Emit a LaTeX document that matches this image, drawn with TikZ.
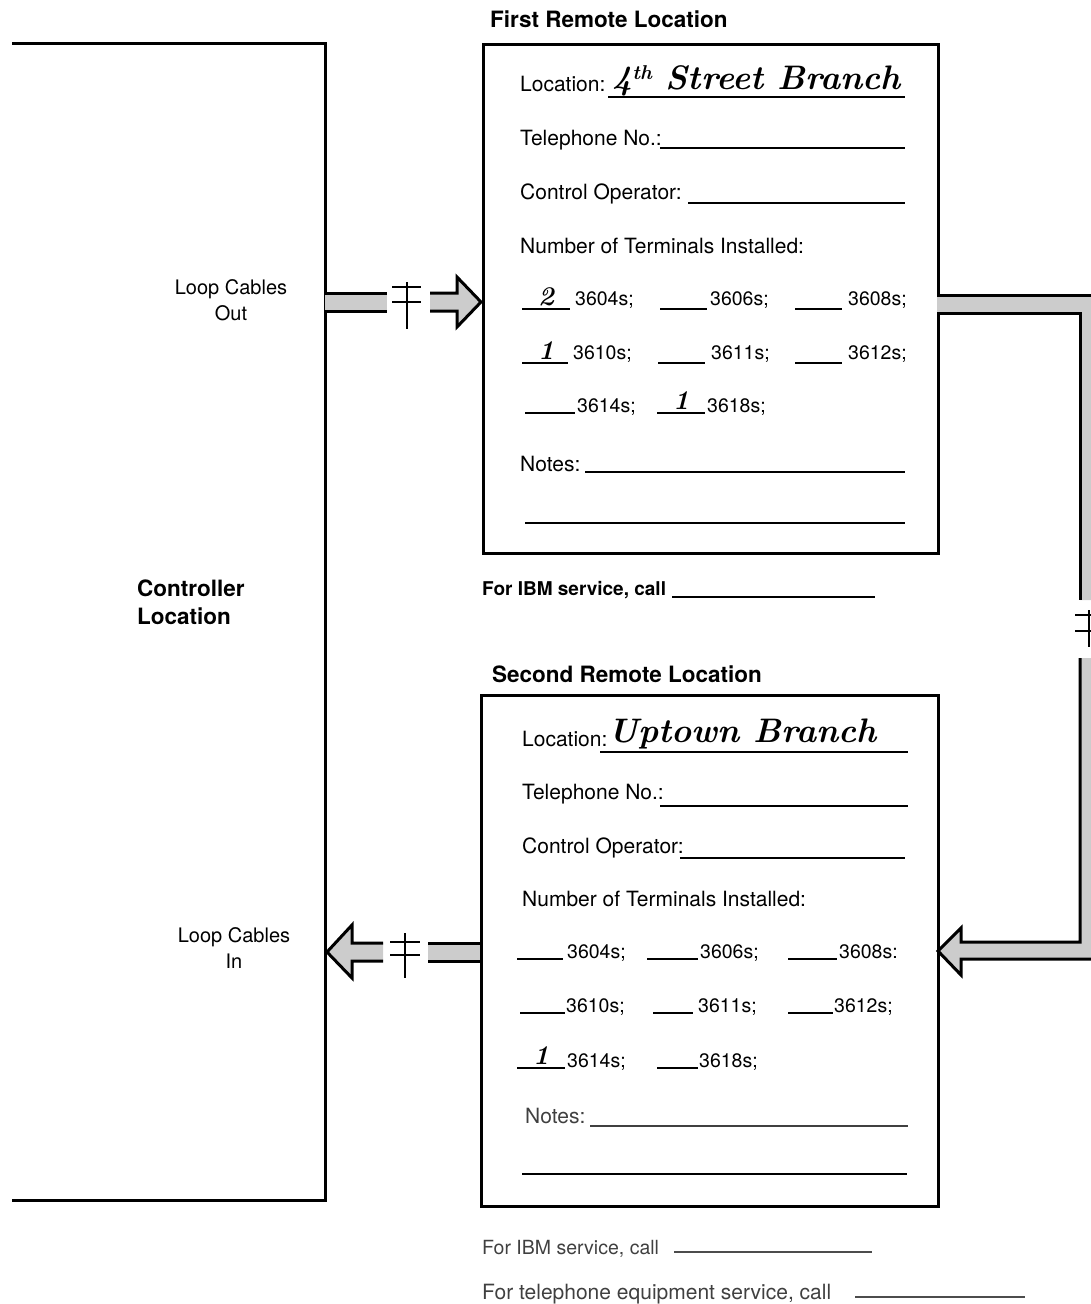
\documentclass[tikz,border=0pt]{standalone}
\usepackage{fontspec}
\setsansfont{TeX Gyre Heros}
\begin{document}
\begin{tikzpicture}[x=1pt,y=-1pt,
  frame/.style={line width=3pt},
  edge/.style={line width=3pt, line join=miter},
  tick/.style={line width=2.4pt},
  bandfill/.style={fill=black!20},
  uline/.style={line width=1.7pt},
  txt/.style={anchor=base west, inner sep=0pt, font=\sffamily\fontsize{21}{24}\selectfont},
  dig/.style={anchor=base west, inner sep=0pt, font=\sffamily\fontsize{19.5}{22}\selectfont},
  ttl/.style={anchor=base west, inner sep=0pt, font=\sffamily\bfseries\fontsize{22.5}{26}\selectfont},
  lbl/.style={align=center, inner sep=0pt, font=\sffamily\fontsize{20}{26}\selectfont},
  hand/.style={anchor=base west, inner sep=0pt, font=\rmfamily\bfseries\itshape\fontsize{34}{34}\selectfont},
  num/.style={anchor=base, inner sep=0pt, font=\rmfamily\bfseries\itshape\fontsize{27}{27}\selectfont},
  faded/.style={text=black!75}
]
\useasboundingbox (0,0) rectangle (1091,1304);
\clip (0,0) rectangle (1091,1304);

% Controller location outline
\draw[frame] (12,43) -- (325,43) -- (325,1200) -- (12,1200);
\node[anchor=base west, inner sep=0pt, align=left, font=\sffamily\bfseries\fontsize{22.5}{28}\selectfont] (ctrl) at (137,624) {Controller\\Location};
\node[lbl, anchor=base] (lco) at (231,320) {Loop Cables\\Out};
\node[lbl, anchor=base] (lci) at (234,968) {Loop Cables\\In};

% Remote boxes
\node[draw, frame, anchor=north west, minimum width=455pt, minimum height=509pt, inner sep=0pt] (box1) at (482,43) {};
\node[draw, frame, anchor=north west, minimum width=457pt, minimum height=511pt, inner sep=0pt] (box2) at (480,694) {};
\node[ttl] (t1) at (490,27) {First Remote Location};
\node[ttl] (t2) at (492,682) {Second Remote Location};

% ---- Loop cables out arrow ----
\fill[bandfill] (325,293) rectangle (387,311);
\draw[edge] (325,293) -- (387,293) (325,311) -- (387,311);
\draw[tick] (407,282) -- (407,329) (392,287) -- (421,287) (392,302) -- (421,302);
\fill[bandfill] (430,293) -- (457,293) -- (457,277) -- (481,302) -- (457,327) -- (457,311) -- (430,311) -- cycle;
\draw[edge] (430,293) -- (457,293) -- (457,277) -- (481,302) -- (457,327) -- (457,311) -- (430,311);

% ---- Right loop ----
\fill[bandfill] (937,295) -- (1098,295) -- (1098,600) -- (1080,600) -- (1080,313) -- (937,313) -- cycle;
\draw[edge] (937,295) -- (1098,295) -- (1098,600);
\draw[edge] (937,313) -- (1080,313) -- (1080,600);
\draw[tick] (1089,610) -- (1089,647) (1075,615) -- (1104,615) (1075,631) -- (1104,631);
\fill[bandfill] (1080,658) -- (1080,942) -- (961,942) -- (961,928) -- (938,951) -- (961,975) -- (961,959) -- (1098,959) -- (1098,658) -- cycle;
\draw[edge] (1080,658) -- (1080,942) -- (961,942) -- (961,928) -- (938,951) -- (961,975) -- (961,959) -- (1098,959) -- (1098,658);

% ---- Loop cables in arrow ----
\fill[bandfill] (428,943) rectangle (480,961);
\draw[edge] (428,943) -- (480,943) (428,961) -- (480,961);
\draw[tick] (405,933) -- (405,978) (390,942) -- (420,942) (390,955) -- (420,955);
\fill[bandfill] (383,943) -- (352,943) -- (352,925) -- (327,952) -- (352,978) -- (352,961) -- (383,961) -- cycle;
\draw[edge] (383,943) -- (352,943) -- (352,925) -- (327,952) -- (352,978) -- (352,961) -- (383,961);

% ---- First box contents ----
\node[txt] (l1) at (520,91) {Location:};
\draw[uline] (608,97) -- (905,97);
\node[hand] (h1) at (612,89) {4\raisebox{10pt}{\fontsize{20}{20}\selectfont th} Street Branch};
\node[txt] (p1) at (520,145) {Telephone No.:};
\draw[uline] (660,148) -- (905,148);
\node[txt] (c1) at (520,199) {Control Operator:};
\draw[uline] (688,203) -- (905,203);
\node[txt] (n1) at (520,253) {Number of Terminals Installed:};
% row 1
\draw[uline] (522,309) -- (570,309); \node[num] (a1) at (546,305) {2};
\node[dig] (r11) at (575,305) {3604s;};
\draw[uline] (660,309) -- (707,309); \node[dig] (r12) at (710,305) {3606s;};
\draw[uline] (795,309) -- (842,309); \node[dig] (r13) at (848,305) {3608s;};
% row 2
\draw[uline] (522,363) -- (568,363); \node[num] (a2) at (546,359) {1};
\node[dig] (r21) at (573,359) {3610s;};
\draw[uline] (658,363) -- (705,363); \node[dig] (r22) at (711,359) {3611s;};
\draw[uline] (795,363) -- (842,363); \node[dig] (r23) at (848,359) {3612s;};
% row 3
\draw[uline] (525,413) -- (575,413); \node[dig] (r31) at (577,412) {3614s;};
\draw[uline] (657,413) -- (705,413); \node[num] (a3) at (681,409) {1};
\node[dig] (r32) at (707,412) {3618s;};
\node[txt] (no1) at (520,471) {Notes:};
\draw[uline] (585,472) -- (905,472);
\draw[uline] (525,523) -- (905,523);
\node[txt, font=\sffamily\bfseries\fontsize{19}{22}\selectfont] (s1) at (482,595) {For IBM service, call};
\draw[uline] (672,597) -- (875,597);

% ---- Second box contents ----
\node[txt] (l2) at (522,746) {Location:};
\draw[uline] (600,752) -- (908,752);
\node[hand] (h2) at (608,742) {Uptown Branch};
\node[txt] (p2) at (522,799) {Telephone No.:};
\draw[uline] (660,806) -- (908,806);
\node[txt] (c2) at (522,853) {Control Operator:};
\draw[uline] (680,858) -- (905,858);
\node[txt] (n2) at (522,906) {Number of Terminals Installed:};
% row 1
\draw[uline] (517,959) -- (563,959); \node[dig] (q11) at (567,958) {3604s;};
\draw[uline] (647,959) -- (698,959); \node[dig] (q12) at (700,958) {3606s;};
\draw[uline] (788,959) -- (837,959); \node[dig] (q13) at (839,958) {3608s:};
% row 2
\draw[uline] (520,1013) -- (565,1013); \node[dig] (q21) at (566,1012) {3610s;};
\draw[uline] (653,1013) -- (693,1013); \node[dig] (q22) at (698,1012) {3611s;};
\draw[uline] (788,1013) -- (833,1013); \node[dig] (q23) at (834,1012) {3612s;};
% row 3
\draw[uline] (517,1068) -- (565,1068); \node[num] (b1) at (541,1064) {1};
\node[dig] (q31) at (567,1067) {3614s;};
\draw[uline] (657,1068) -- (698,1068); \node[dig] (q32) at (699,1067) {3618s;};
\node[txt, faded] (no2) at (525,1123) {Notes:};
\draw[uline, black!75] (590,1126) -- (908,1126);
\draw[uline] (522,1174) -- (907,1174);
\node[txt, faded, font=\sffamily\fontsize{19.5}{22}\selectfont] (s2) at (482,1254) {For IBM service, call};
\draw[uline, black!70] (674,1252) -- (872,1252);
\node[txt, faded, font=\sffamily\fontsize{21}{22}\selectfont] (s3) at (482,1299) {For telephone equipment service, call};
\draw[uline, black!70] (855,1297) -- (1025,1297);
\end{tikzpicture}
\end{document}
